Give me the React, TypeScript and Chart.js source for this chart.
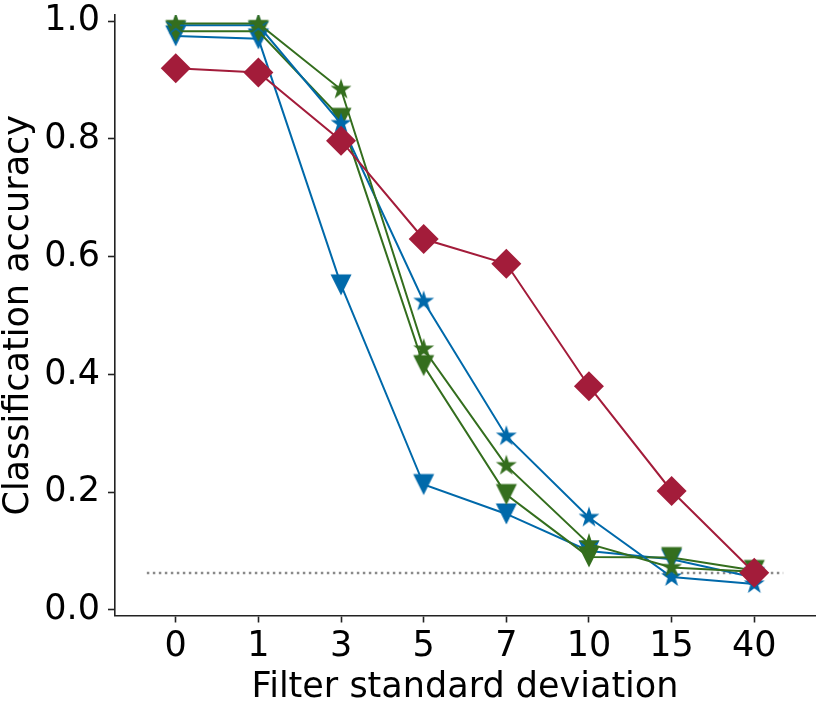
import React, { useEffect, useRef } from "react";
import { Chart, ChartConfiguration, registerables } from "chart.js";

Chart.register(...registerables);

// filter standard deviation (categories along x)
const filterSd = ["0", "1", "3", "5", "7", "10", "15", "40"];

// classification accuracy per series
const blueStar = [0.993, 0.993, 0.826, 0.524, 0.295, 0.157, 0.056, 0.044];
const blueTriangle = [0.975, 0.97, 0.552, 0.213, 0.163, 0.1, 0.086, 0.055];
const greenStar = [0.996, 0.996, 0.884, 0.443, 0.245, 0.112, 0.072, 0.065];
const greenTriangle = [0.983, 0.983, 0.835, 0.415, 0.196, 0.09, 0.089, 0.067];
const redDiamond = [0.92, 0.913, 0.797, 0.63, 0.588, 0.38, 0.202, 0.063];

const chanceLevel = 0.0625;
const yTicks = [0, 0.2, 0.4, 0.6, 0.8, 1.0];

const BLUE = "#0069aa";
const GREEN = "#346e1e";
const RED = "#a31c3a";
const AXIS = "#222222";
const FONT = "'DejaVu Sans', sans-serif";

function makeMarker(kind: "star" | "tri", color: string, r: number) {
  const size = 2 * Math.ceil(r) + 4;
  const c = document.createElement("canvas");
  c.width = size;
  c.height = size;
  const ctx = c.getContext("2d")!;
  const cx = size / 2;
  const cy = size / 2;
  ctx.fillStyle = color;
  ctx.beginPath();
  if (kind === "star") {
    for (let i = 0; i < 10; i++) {
      const rad = i % 2 === 0 ? r : r * 0.382;
      const a = -Math.PI / 2 + (i * Math.PI) / 5;
      ctx.lineTo(cx + rad * Math.cos(a), cy + rad * Math.sin(a));
    }
  } else {
    ctx.moveTo(cx - r, cy - r);
    ctx.lineTo(cx + r, cy - r);
    ctx.lineTo(cx, cy + r);
  }
  ctx.closePath();
  ctx.fill();
  return c;
}

const toPoints = (vals: number[]) => vals.map((y, i) => ({ x: i, y }));

const App: React.FC = () => {
  const chartRef = useRef<HTMLCanvasElement | null>(null);

  useEffect(() => {
    if (!chartRef.current) return;

    const blueStarImg = makeMarker("star", BLUE, 11);
    const greenStarImg = makeMarker("star", GREEN, 11);
    const blueTriImg = makeMarker("tri", BLUE, 10.5);
    const greenTriImg = makeMarker("tri", GREEN, 10.5);

    const series = (
      label: string,
      vals: number[],
      color: string,
      style: any,
      order: number,
      radius = 10
    ) => ({
      label,
      data: toPoints(vals),
      borderColor: color,
      backgroundColor: color,
      borderWidth: 2,
      pointStyle: style,
      pointRadius: radius,
      pointBorderWidth: 0,
      pointBackgroundColor: color,
      order,
    });

    const config: ChartConfiguration<"line"> = {
      type: "line",
      data: {
        datasets: [
          series("red", redDiamond, RED, "rectRot", 0, 15) as any,
          series("green star", greenStar, GREEN, greenStarImg, 1),
          series("blue star", blueStar, BLUE, blueStarImg, 2),
          series("green triangle", greenTriangle, GREEN, greenTriImg, 3),
          series("blue triangle", blueTriangle, BLUE, blueTriImg, 4),
          {
            label: "chance",
            data: [
              { x: -0.35, y: chanceLevel },
              { x: filterSd.length - 1 + 0.35, y: chanceLevel },
            ],
            borderColor: "#8a8a8a",
            borderWidth: 2.5,
            borderDash: [2.5, 3.5],
            pointRadius: 0,
            order: 10,
          },
        ],
      },
      options: {
        animation: false,
        responsive: false,
        layout: { padding: { top: 8, right: 2, left: 0, bottom: 0 } },
        plugins: {
          legend: { display: false },
          tooltip: { enabled: false },
        },
        scales: {
          x: {
            type: "linear",
            min: -0.735,
            max: filterSd.length - 1 + 0.735,
            afterBuildTicks: (axis: any) => {
              axis.ticks = filterSd.map((_, i) => ({ value: i }));
            },
            afterFit: (axis: any) => {
              axis.height = 85.5;
              axis.paddingLeft = 0;
              axis.paddingRight = 0;
            },
            ticks: {
              callback: (v: any) => filterSd[v as number],
              font: { family: FONT, size: 35 },
              color: "#000",
              padding: 3,
              maxRotation: 0,
              autoSkip: false,
            },
            grid: {
              display: true,
              drawOnChartArea: false,
              drawTicks: true,
              tickLength: 7,
              tickColor: AXIS,
              tickWidth: 1.6,
            },
            border: { display: true, color: AXIS, width: 1.6 },
            title: {
              display: true,
              text: "Filter standard deviation",
              font: { family: FONT, size: 35 },
              color: "#000",
              padding: { top: 0, bottom: -8 },
            },
          },
          y: {
            type: "linear",
            min: -0.0095,
            max: 1.0105,
            afterBuildTicks: (axis: any) => {
              axis.ticks = yTicks.map((v) => ({ value: v }));
            },
            afterFit: (axis: any) => {
              axis.width = 115;
              axis.paddingTop = 0;
              axis.paddingBottom = 0;
            },
            ticks: {
              callback: (v: any) => (v as number).toFixed(1),
              font: { family: FONT, size: 35 },
              color: "#000",
              padding: 8,
            },
            grid: {
              display: true,
              drawOnChartArea: false,
              drawTicks: true,
              tickLength: 7,
              tickColor: AXIS,
              tickWidth: 1.6,
            },
            border: { display: true, color: AXIS, width: 1.6 },
            title: {
              display: true,
              text: "Classification accuracy",
              font: { family: FONT, size: 35 },
              color: "#000",
              padding: { top: -2, bottom: 0 },
            },
          },
        },
      },
    };

    const chart = new Chart(chartRef.current, config);
    return () => {
      chart.destroy();
    };
  }, []);

  return (
    <div style={{ position: "fixed", left: 0, top: 0, width: 830, height: 701, background: "#fff" }}>
      <canvas ref={chartRef} width={830} height={701}></canvas>
    </div>
  );
};

export default App;
